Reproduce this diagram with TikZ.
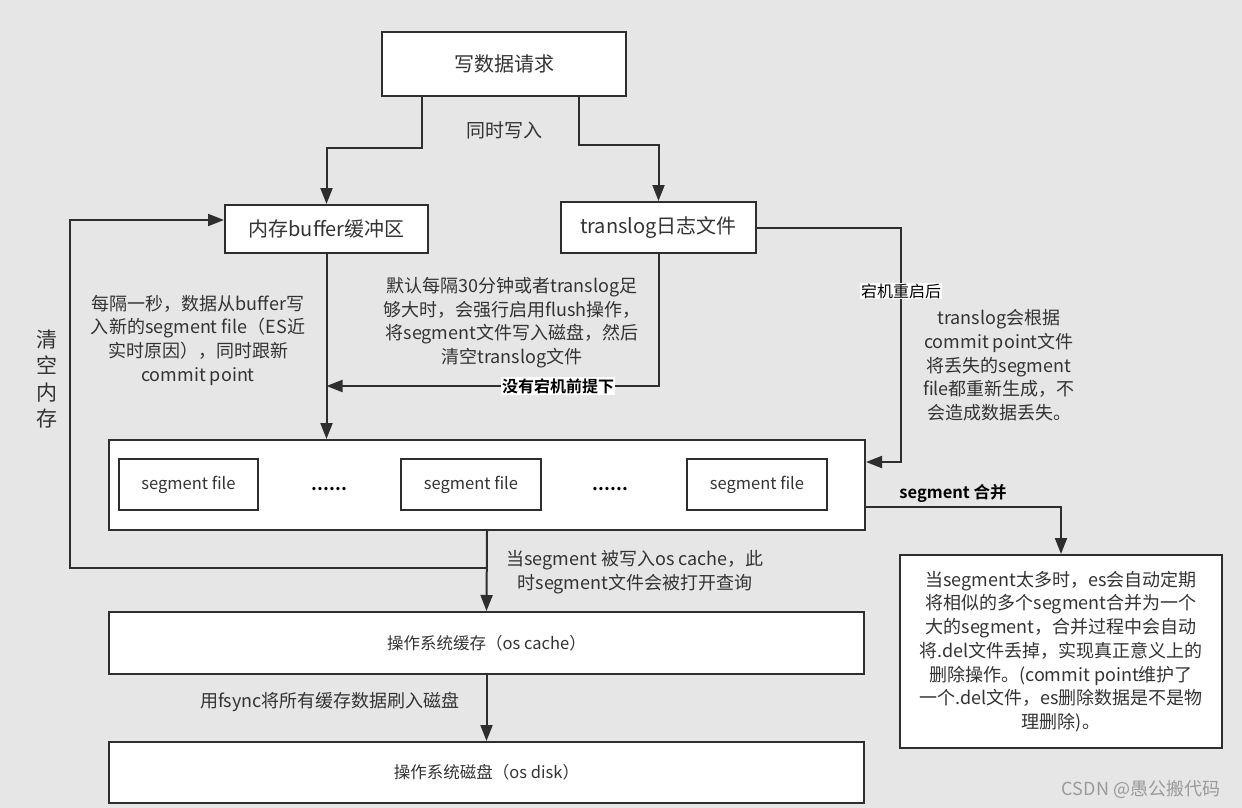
\documentclass[tikz,border=0pt]{standalone}
\usepackage{fontspec}
\setmainfont{Noto Sans CJK SC}[BoldFont={Noto Sans CJK SC Bold}]
\usetikzlibrary{arrows.meta,calc}
\definecolor{bg}{HTML}{E6E6E6}
\definecolor{ln}{HTML}{2E2E2E}
\definecolor{tx}{HTML}{333333}
\definecolor{wm}{HTML}{9A9A9A}
\begin{document}
\begin{tikzpicture}[x=1pt,y=-1pt,
  box/.style={draw=ln,line width=2pt,fill=white,inner sep=0pt,text=tx},
  conn/.style={draw=ln,line width=2pt},
  arr/.style={conn,-{Triangle[length=16pt,width=12pt]}},
  big/.style={font=\fontsize{20}{24}\selectfont},
  small/.style={font=\fontsize{16.5}{20}\selectfont},
  note/.style={text=tx,align=center,inner sep=0pt,font=\fontsize{18}{23.7}\selectfont},
  lbl/.style={fill=white,inner sep=1pt,text=black}
]
\fill[bg] (0,0) rectangle (1242,808);
\useasboundingbox (0,0) rectangle (1242,808);

% boxes
\node[box,big,minimum width=244pt,minimum height=64pt] (top) at (504,64) {写数据请求};
\node[box,big,minimum width=203pt,minimum height=48pt] (buf) at (326.5,229) {内存buffer缓冲区};
\node[box,big,minimum width=195pt,minimum height=51pt] (tl) at (658.5,227.5) {translog日志文件};
\node[box,minimum width=756pt,minimum height=90pt] (seg) at (487,485) {};
\node[box,small,minimum width=139pt,minimum height=51pt] (sf1) at (188.5,484.5) {segment file};
\node[box,small,minimum width=140pt,minimum height=51pt] (sf2) at (471,484.5) {segment file};
\node[box,small,minimum width=140pt,minimum height=51pt] (sf3) at (757,484.5) {segment file};
\node[text=black,font=\fontsize{18}{20}\selectfont\bfseries,inner sep=0pt] (d1) at (329.5,489) {......};
\node[text=black,font=\fontsize{18}{20}\selectfont\bfseries,inner sep=0pt] (d2) at (610.5,489) {......};
\node[box,small,minimum width=755pt,minimum height=62pt] (cache) at (486.5,643) {操作系统缓存（os cache）};
\node[box,small,minimum width=755pt,minimum height=61pt] (disk) at (486.5,772.5) {操作系统磁盘（os disk）};
\node[box,minimum width=322pt,minimum height=193pt,note] (merge) at (1061,651.5)
  {当segment太多时，es会自动定期\\将相似的多个segment合并为一个\\大的segment，合并过程中会自动\\将.del文件丢掉，实现真正意义上的\\删除操作。(commit point维护了\\一个.del文件，es删除数据是不是物\\理删除)。};

% texts
\node[note,font=\fontsize{19}{24}\selectfont] (sync) at (504,130) {同时写入};
\node[note] (n1) at (198,340) {每隔一秒，数据从buffer写\\入新的segment file（ES近\\实时原因），同时跟新\\commit point};
\node[note] (n2) at (512,322.5) {默认每隔30分钟或者translog足\\够大时，会强行启用flush操作，\\将segment文件写入磁盘，然后\\清空translog文件};
\node[note] (n3) at (999,365.5) {translog会根据\\commit point文件\\将丢失的segment\\file都重新生成，不\\会造成数据丢失。};
\node[note] (n4) at (635,572) {当segment 被写入os cache，此\\时segment文件会被打开查询};
\node[note] (n5) at (330,702) {用fsync将所有缓存数据刷入磁盘};
\node[text=tx,align=center,inner sep=0pt,font=\fontsize{21}{26.5}\selectfont] (clr) at (47,379) {清\\空\\内\\存};
\node[text=wm,inner sep=0pt,font=\fontsize{18}{20}\selectfont] (wmk) at (1141,789) {CSDN @愚公搬代码};

% connectors
\draw[arr] ([xshift=-82pt]top.south) -- ++(0,51) -| (buf.north);
\draw[arr] ([xshift=75pt]top.south) -- ++(0,48) -| (tl.north);
\draw[arr] (buf.south) -- (buf.south |- seg.north);
\coordinate (m1) at (326.5,386);
\draw[arr] (tl.south) |- (m1);
\node[lbl,font=\fontsize{16}{20}\selectfont\bfseries] (nocrash) at (558,386) {没有宕机前提下};
\coordinate (c2) at (901,462);
\draw[arr] (tl.east) -| (c2) -- (seg.east |- c2);
\node[lbl,font=\fontsize{16}{20}\selectfont] (crash) at (901,291) {宕机重启后};
\coordinate (j) at ($(seg.south)+(0,37)$);
\draw[arr] (j) -| ([xshift=-154pt,yshift=9pt]buf.west) -- ([yshift=9pt]buf.west);
\draw[arr] (seg.south) -- (cache.north);
\draw[arr] (cache.south) -- (disk.north);
\draw[arr] ([yshift=-22pt]seg.east) -| (merge.north);
\node[text=black,inner sep=0pt,font=\fontsize{16.5}{20}\selectfont\bfseries] (mlbl) at (953,493) {segment 合并};
\end{tikzpicture}
\end{document}
